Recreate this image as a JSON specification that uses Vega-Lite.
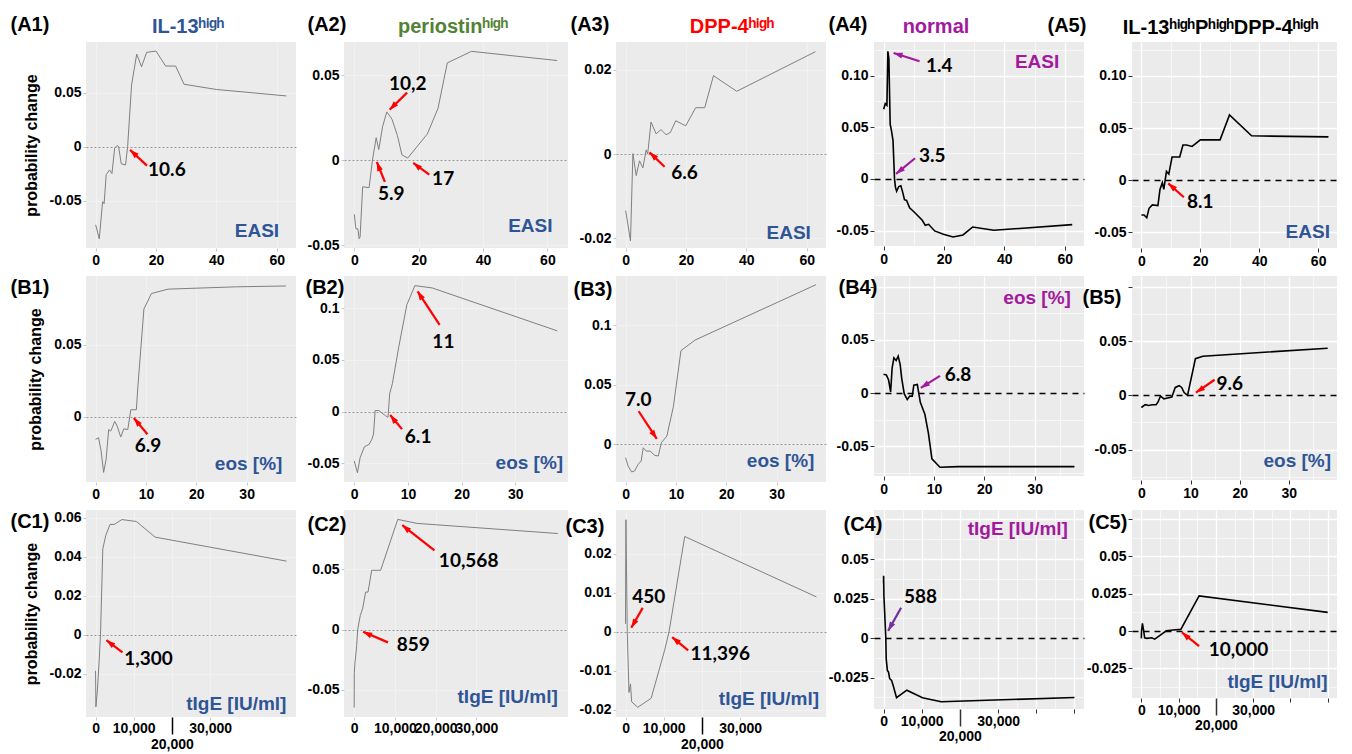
{
"$schema":"https://vega.github.io/schema/vega-lite/v6.json",
"background":"white",
"padding":{"left":10,"top":14,"right":4,"bottom":4},
"datasets":{
"crv":[
{"p":"A1","x":0,"y":-0.0725},{"p":"A1","x":1.2,"y":-0.0855},{"p":"A1","x":2.3,"y":-0.051},{"p":"A1","x":2.8,"y":-0.053},{"p":"A1","x":3.5,"y":-0.026},{"p":"A1","x":4.6,"y":-0.0216},{"p":"A1","x":5.4,"y":-0.025},{"p":"A1","x":6.3,"y":-0.0015},{"p":"A1","x":7.1,"y":0.001},{"p":"A1","x":7.6,"y":0},{"p":"A1","x":8.5,"y":-0.016},{"p":"A1","x":9.9,"y":-0.017},{"p":"A1","x":10.6,"y":0},{"p":"A1","x":11.9,"y":0.057},{"p":"A1","x":13.6,"y":0.0858},{"p":"A1","x":15.2,"y":0.074},{"p":"A1","x":16.9,"y":0.0874},{"p":"A1","x":20,"y":0.0886},{"p":"A1","x":23.2,"y":0.0747},{"p":"A1","x":26.5,"y":0.0747},{"p":"A1","x":29.3,"y":0.0578},{"p":"A1","x":40,"y":0.053},{"p":"A1","x":63.2,"y":0.047},
{"p":"A2","x":0,"y":-0.0317},{"p":"A2","x":0.5,"y":-0.0402},{"p":"A2","x":1.1,"y":-0.0402},{"p":"A2","x":1.5,"y":-0.046},{"p":"A2","x":1.8,"y":-0.045},{"p":"A2","x":2.6,"y":-0.0155},{"p":"A2","x":4.6,"y":-0.016},{"p":"A2","x":5.7,"y":0.001},{"p":"A2","x":6.8,"y":0.0134},{"p":"A2","x":7.6,"y":0.0064},{"p":"A2","x":8.8,"y":0.02},{"p":"A2","x":10.1,"y":0.0286},{"p":"A2","x":11.7,"y":0.0243},{"p":"A2","x":13.4,"y":0.0146},{"p":"A2","x":14.8,"y":0.0033},{"p":"A2","x":16.6,"y":0.0014},{"p":"A2","x":22.7,"y":0.0156},{"p":"A2","x":26,"y":0.0306},{"p":"A2","x":28.9,"y":0.0574},{"p":"A2","x":36.4,"y":0.0642},{"p":"A2","x":63,"y":0.0588},
{"p":"A3","x":0,"y":-0.0134},{"p":"A3","x":1.6,"y":-0.0206},{"p":"A3","x":2.4,"y":0.0001},{"p":"A3","x":3.5,"y":-0.0051},{"p":"A3","x":4.6,"y":-0.0016},{"p":"A3","x":5.7,"y":-0.0033},{"p":"A3","x":6.8,"y":0.001},{"p":"A3","x":7.3,"y":0},{"p":"A3","x":8.4,"y":0.0076},{"p":"A3","x":10.1,"y":0.0048},{"p":"A3","x":11.7,"y":0.0058},{"p":"A3","x":13.4,"y":0.0046},{"p":"A3","x":14.8,"y":0.0051},{"p":"A3","x":16.6,"y":0.0079},{"p":"A3","x":19.9,"y":0.0067},{"p":"A3","x":23.2,"y":0.011},{"p":"A3","x":26.2,"y":0.011},{"p":"A3","x":29.1,"y":0.0186},{"p":"A3","x":36.8,"y":0.0149},{"p":"A3","x":62.9,"y":0.0243},
{"p":"A4","x":0,"y":0.0674},{"p":"A4","x":0.54,"y":0.0729},{"p":"A4","x":1.08,"y":0.0713},{"p":"A4","x":1.4,"y":0.1236},{"p":"A4","x":1.73,"y":0.1166},{"p":"A4","x":2.16,"y":0.053},{"p":"A4","x":2.6,"y":0.0466},{"p":"A4","x":3.1,"y":0.037},{"p":"A4","x":3.6,"y":0},{"p":"A4","x":3.9,"y":-0.008},{"p":"A4","x":4.3,"y":-0.0119},{"p":"A4","x":5,"y":-0.0074},{"p":"A4","x":5.7,"y":-0.0067},{"p":"A4","x":6.3,"y":-0.0128},{"p":"A4","x":6.9,"y":-0.0202},{"p":"A4","x":7.6,"y":-0.0209},{"p":"A4","x":8.6,"y":-0.028},{"p":"A4","x":10.1,"y":-0.0321},{"p":"A4","x":12.8,"y":-0.0401},{"p":"A4","x":13.8,"y":-0.045},{"p":"A4","x":14.9,"y":-0.044},{"p":"A4","x":16.9,"y":-0.0504},{"p":"A4","x":19.8,"y":-0.0536},{"p":"A4","x":23,"y":-0.0562},{"p":"A4","x":26.3,"y":-0.0543},{"p":"A4","x":29.5,"y":-0.0466},{"p":"A4","x":36.5,"y":-0.0498},{"p":"A4","x":62.5,"y":-0.0443},
{"p":"A5","x":0,"y":-0.0334},{"p":"A5","x":0.9,"y":-0.0334},{"p":"A5","x":1.8,"y":-0.036},{"p":"A5","x":2.6,"y":-0.0269},{"p":"A5","x":3.7,"y":-0.0236},{"p":"A5","x":5.6,"y":-0.0243},{"p":"A5","x":6.3,"y":-0.0088},{"p":"A5","x":7.1,"y":-0.0023},{"p":"A5","x":7.6,"y":-0.0088},{"p":"A5","x":8.5,"y":0.0085},{"p":"A5","x":9.3,"y":0.0059},{"p":"A5","x":10.4,"y":0.0223},{"p":"A5","x":13,"y":0.0223},{"p":"A5","x":14.1,"y":0.0338},{"p":"A5","x":15.3,"y":0.0338},{"p":"A5","x":17.2,"y":0.0324},{"p":"A5","x":20,"y":0.0387},{"p":"A5","x":26.7,"y":0.0387},{"p":"A5","x":29.9,"y":0.0626},{"p":"A5","x":37.4,"y":0.0426},{"p":"A5","x":63.5,"y":0.0416},
{"p":"B1","x":0,"y":-0.0155},{"p":"B1","x":0.6,"y":-0.0144},{"p":"B1","x":1.1,"y":-0.0235},{"p":"B1","x":1.6,"y":-0.0384},{"p":"B1","x":2.1,"y":-0.0292},{"p":"B1","x":2.6,"y":-0.0087},{"p":"B1","x":3,"y":-0.0098},{"p":"B1","x":3.3,"y":-0.0075},{"p":"B1","x":3.8,"y":-0.003},{"p":"B1","x":4.3,"y":-0.0064},{"p":"B1","x":5,"y":-0.0139},{"p":"B1","x":5.6,"y":-0.0082},{"p":"B1","x":6.4,"y":-0.0087},{"p":"B1","x":7,"y":0.005},{"p":"B1","x":8.1,"y":0.005},{"p":"B1","x":8.4,"y":0.021},{"p":"B1","x":9.6,"y":0.0747},{"p":"B1","x":11.1,"y":0.0854},{"p":"B1","x":14.4,"y":0.0884},{"p":"B1","x":27.8,"y":0.09},{"p":"B1","x":37.8,"y":0.0906},
{"p":"B2","x":0,"y":-0.0477},{"p":"B2","x":0.6,"y":-0.059},{"p":"B2","x":1.1,"y":-0.0445},{"p":"B2","x":1.9,"y":-0.034},{"p":"B2","x":2.8,"y":-0.0315},{"p":"B2","x":3.3,"y":-0.0266},{"p":"B2","x":3.6,"y":-0.0217},{"p":"B2","x":3.9,"y":0.001},{"p":"B2","x":4.6,"y":0.001},{"p":"B2","x":5.8,"y":-0.0039},{"p":"B2","x":6.3,"y":-0.0055},{"p":"B2","x":6.6,"y":0.0172},{"p":"B2","x":7.1,"y":0.0269},{"p":"B2","x":8.3,"y":0.0626},{"p":"B2","x":9.8,"y":0.1032},{"p":"B2","x":11.3,"y":0.1217},{"p":"B2","x":14.5,"y":0.1195},{"p":"B2","x":37.8,"y":0.078},
{"p":"B3","x":0,"y":-0.0111},{"p":"B3","x":0.5,"y":-0.0181},{"p":"B3","x":1.2,"y":-0.0231},{"p":"B3","x":1.8,"y":-0.0222},{"p":"B3","x":2.5,"y":-0.0167},{"p":"B3","x":3.1,"y":-0.0139},{"p":"B3","x":3.5,"y":-0.0028},{"p":"B3","x":4.1,"y":-0.0056},{"p":"B3","x":4.9,"y":-0.0056},{"p":"B3","x":5.8,"y":-0.0092},{"p":"B3","x":6.5,"y":-0.0097},{"p":"B3","x":7.1,"y":0.0014},{"p":"B3","x":8.2,"y":0.007},{"p":"B3","x":9.5,"y":0.0319},{"p":"B3","x":11,"y":0.0786},{"p":"B3","x":13.8,"y":0.0875},{"p":"B3","x":37.8,"y":0.1339},
{"p":"B4","x":0,"y":0.0177},{"p":"B4","x":0.55,"y":0.017},{"p":"B4","x":1,"y":0.0122},{"p":"B4","x":1.4,"y":0.001},{"p":"B4","x":1.7,"y":0.0235},{"p":"B4","x":2.05,"y":0.0331},{"p":"B4","x":2.5,"y":0.0306},{"p":"B4","x":2.9,"y":0.0347},{"p":"B4","x":3.3,"y":0.0267},{"p":"B4","x":3.6,"y":0.0138},{"p":"B4","x":4.1,"y":-0.0006},{"p":"B4","x":4.7,"y":-0.0061},{"p":"B4","x":5.2,"y":-0.0029},{"p":"B4","x":5.7,"y":-0.0029},{"p":"B4","x":6,"y":0.0074},{"p":"B4","x":6.7,"y":0.008},{"p":"B4","x":7.3,"y":-0.0087},{"p":"B4","x":8.2,"y":-0.02},{"p":"B4","x":8.9,"y":-0.0376},{"p":"B4","x":9.6,"y":-0.0618},{"p":"B4","x":11.2,"y":-0.0698},{"p":"B4","x":14.9,"y":-0.0692},{"p":"B4","x":37.9,"y":-0.0692},
{"p":"B5","x":0,"y":-0.0112},{"p":"B5","x":0.8,"y":-0.0086},{"p":"B5","x":1.5,"y":-0.0093},{"p":"B5","x":2.2,"y":-0.0086},{"p":"B5","x":3,"y":-0.0086},{"p":"B5","x":3.4,"y":-0.0061},{"p":"B5","x":3.9,"y":-0.0006},{"p":"B5","x":4.6,"y":-0.0032},{"p":"B5","x":5.6,"y":-0.0022},{"p":"B5","x":6.2,"y":-0.0016},{"p":"B5","x":6.9,"y":0.0073},{"p":"B5","x":7.7,"y":0.0089},{"p":"B5","x":8.2,"y":0.0073},{"p":"B5","x":8.7,"y":0.0026},{"p":"B5","x":9.4,"y":0},{"p":"B5","x":11,"y":0.0338},{"p":"B5","x":12.5,"y":0.0361},{"p":"B5","x":37.9,"y":0.0434},
{"p":"C1","x":0,"y":-0.0185},{"p":"C1","x":100,"y":-0.037},{"p":"C1","x":500,"y":-0.028},{"p":"C1","x":900,"y":-0.015},{"p":"C1","x":1300,"y":0},{"p":"C1","x":1900,"y":0.044},{"p":"C1","x":2700,"y":0.051},{"p":"C1","x":3800,"y":0.0565},{"p":"C1","x":4900,"y":0.0565},{"p":"C1","x":6900,"y":0.059},{"p":"C1","x":10700,"y":0.058},{"p":"C1","x":15600,"y":0.05},{"p":"C1","x":50000,"y":0.0377},
{"p":"C2","x":0,"y":-0.0647},{"p":"C2","x":30,"y":-0.0356},{"p":"C2","x":200,"y":-0.027},{"p":"C2","x":300,"y":-0.0244},{"p":"C2","x":600,"y":-0.0133},{"p":"C2","x":860,"y":0},{"p":"C2","x":1500,"y":0.0117},{"p":"C2","x":2100,"y":0.0178},{"p":"C2","x":2800,"y":0.0311},{"p":"C2","x":3400,"y":0.0311},{"p":"C2","x":4300,"y":0.0492},{"p":"C2","x":6500,"y":0.0492},{"p":"C2","x":10700,"y":0.0914},{"p":"C2","x":15400,"y":0.0881},{"p":"C2","x":50000,"y":0.0797},
{"p":"C3","x":0,"y":0.002},{"p":"C3","x":50,"y":0.0195},{"p":"C3","x":100,"y":0.0287},{"p":"C3","x":250,"y":0.016},{"p":"C3","x":450,"y":0},{"p":"C3","x":900,"y":-0.0156},{"p":"C3","x":1300,"y":-0.0134},{"p":"C3","x":1600,"y":-0.018},{"p":"C3","x":3200,"y":-0.0194},{"p":"C3","x":4600,"y":-0.0185},{"p":"C3","x":6700,"y":-0.0171},{"p":"C3","x":10200,"y":-0.0049},{"p":"C3","x":11400,"y":0},{"p":"C3","x":15500,"y":0.0244},{"p":"C3","x":50000,"y":0.0089},
{"p":"C4","x":0,"y":0.0348},{"p":"C4","x":20,"y":0.0394},{"p":"C4","x":100,"y":0.0265},{"p":"C4","x":300,"y":0.016},{"p":"C4","x":588,"y":0},{"p":"C4","x":700,"y":-0.0131},{"p":"C4","x":1000,"y":-0.0204},{"p":"C4","x":1300,"y":-0.0215},{"p":"C4","x":1600,"y":-0.0256},{"p":"C4","x":2100,"y":-0.0267},{"p":"C4","x":2500,"y":-0.0298},{"p":"C4","x":3400,"y":-0.0377},{"p":"C4","x":6100,"y":-0.0329},{"p":"C4","x":10200,"y":-0.0377},{"p":"C4","x":15100,"y":-0.0402},{"p":"C4","x":50000,"y":-0.0375},
{"p":"C5","x":0,"y":-0.0049},{"p":"C5","x":50,"y":-0.0004},{"p":"C5","x":300,"y":0.0051},{"p":"C5","x":600,"y":0.0007},{"p":"C5","x":900,"y":-0.0045},{"p":"C5","x":1500,"y":-0.0049},{"p":"C5","x":2800,"y":-0.0045},{"p":"C5","x":3600,"y":-0.0054},{"p":"C5","x":5100,"y":-0.0027},{"p":"C5","x":6700,"y":0.0002},{"p":"C5","x":8500,"y":0.0007},{"p":"C5","x":10600,"y":0.0011},{"p":"C5","x":15500,"y":0.0235},{"p":"C5","x":50000,"y":0.0125}
],
"arr":[
{"p":"A1","x":17,"y":-0.0176,"hx":11.4,"hy":-0.003,"a":313},
{"p":"A2","x":16.4,"y":0.0399,"hx":10.99,"hy":0.0298,"a":224},
{"p":"A2","x":9.5,"y":-0.0126,"hx":7.0,"hy":-0.0009,"a":339},
{"p":"A2","x":23.3,"y":-0.0083,"hx":18.3,"hy":-0.0014,"a":309},
{"p":"A3","x":12.9,"y":-0.003,"hx":7.9,"hy":0.0004,"a":313},
{"p":"A4","x":11.9,"y":0.114,"hx":3.3,"hy":0.122,"a":287},
{"p":"A4","x":10.4,"y":0.02,"hx":4.1,"hy":0.0048,"a":231},
{"p":"A5","x":14.4,"y":-0.0163,"hx":9.1,"hy":-0.003,"a":311},
{"p":"B1","x":10.3,"y":-0.012,"hx":7.6,"hy":-0.0007,"a":321},
{"p":"B2","x":15.9,"y":0.0837,"hx":11.8,"hy":0.1162,"a":328},
{"p":"B2","x":8.9,"y":-0.0169,"hx":6.7,"hy":-0.0033,"a":322},
{"p":"B3","x":2.6,"y":0.0278,"hx":6.2,"hy":0.0047,"a":146},
{"p":"B4","x":11.2,"y":0.0161,"hx":7.4,"hy":0.0048,"a":237},
{"p":"B5","x":14.9,"y":0.0144,"hx":11.1,"hy":0.0025,"a":236},
{"p":"C1","x":7050,"y":-0.0091,"hx":2840,"hy":-0.0028,"a":308},
{"p":"C2","x":19700,"y":0.0658,"hx":11800,"hy":0.0867,"a":310},
{"p":"C2","x":8300,"y":-0.0106,"hx":2200,"hy":-0.0017,"a":295},
{"p":"C3","x":4500,"y":0.0061,"hx":1500,"hy":0.001,"a":210},
{"p":"C3","x":16400,"y":-0.0048,"hx":12200,"hy":-0.0014,"a":310},
{"p":"C4","x":4600,"y":0.0192,"hx":1200,"hy":0.0046,"a":209},
{"p":"C5","x":15500,"y":-0.0101,"hx":10900,"hy":-0.0009,"a":311}
],
"num":[
{"p":"A1","x":23.6,"y":-0.0215,"t":"10.6"},
{"p":"A2","x":16.6,"y":0.045,"t":"10,2"},{"p":"A2","x":11.5,"y":-0.02,"t":"5.9"},{"p":"A2","x":27.6,"y":-0.0107,"t":"17"},
{"p":"A3","x":19.5,"y":-0.0044,"t":"6.6"},
{"p":"A4","x":18.4,"y":0.1092,"t":"1.4"},{"p":"A4","x":16.1,"y":0.0225,"t":"3.5"},
{"p":"A5","x":20,"y":-0.0209,"t":"8.1"},
{"p":"B1","x":10.4,"y":-0.0202,"t":"6.9"},
{"p":"B2","x":16.6,"y":0.0675,"t":"11"},{"p":"B2","x":11.9,"y":-0.025,"t":"6.1"},
{"p":"B3","x":2.5,"y":0.0375,"t":"7.0"},
{"p":"B4","x":14.8,"y":0.0171,"t":"6.8"},
{"p":"B5","x":18,"y":0.0105,"t":"9.6"},
{"p":"C1","x":13900,"y":-0.0125,"t":"1,300"},
{"p":"C2","x":28100,"y":0.0567,"t":"10,568"},{"p":"C2","x":14500,"y":-0.0125,"t":"859"},
{"p":"C3","x":6100,"y":0.0088,"t":"450"},{"p":"C3","x":24800,"y":-0.0058,"t":"11,396"},
{"p":"C4","x":9700,"y":0.0261,"t":"588"},
{"p":"C5","x":26100,"y":-0.0128,"t":"10,000"}
],
"axn":[
{"p":"A1","x":60.8,"y":-0.0787,"t":"EASI"},{"p":"A2","x":61.6,"y":-0.0387,"t":"EASI"},{"p":"A3","x":61.4,"y":-0.0187,"t":"EASI"},{"p":"A4","x":58.2,"y":0.113,"t":"EASI"},{"p":"A5","x":64,"y":-0.0498,"t":"EASI"},
{"p":"B1","x":37.1,"y":-0.0326,"t":"eos [%]"},{"p":"B2","x":38.9,"y":-0.0494,"t":"eos [%]"},{"p":"B3","x":37.5,"y":-0.0139,"t":"eos [%]"},{"p":"B4","x":37.2,"y":0.0895,"t":"eos [%]"},{"p":"B5","x":38.6,"y":-0.0604,"t":"eos [%]"},
{"p":"C1","x":50000,"y":-0.0353,"t":"tIgE [IU/ml]"},{"p":"C2","x":50000,"y":-0.0556,"t":"tIgE [IU/ml]"},{"p":"C3","x":50700,"y":-0.0173,"t":"tIgE [IU/ml]"},{"p":"C4","x":48300,"y":0.0692,"t":"tIgE [IU/ml]"},{"p":"C5","x":50000,"y":-0.034,"t":"tIgE [IU/ml]"}
]
},
"columns":5,
"bounds":"flush",
"spacing":{"row":28,"column":48},
"concat":[
{"width":210,"height":206,
"title":{"text":"IL-13ʰⁱᵍʰ","color":"#2f5597","frame":"group","anchor":"middle","offset":-39,"baseline":"alphabetic","dx":-3},
"encoding":{
"x":{"field":"x","type":"quantitative","scale":{"domain":[-3.2,66.4],"nice":false,"zero":false},"axis":{"values":[0,20,40,60],"title":"(A1)","titleX":-76,"titleY":-218}},
"y":{"field":"y","type":"quantitative","scale":{"domain":[-0.094,0.097],"nice":false,"zero":false},"axis":{"values":[-0.05,0,0.05],"labelExpr":"datum.value===0?'0':replace(format(datum.value,''),'−','-')","title":"probability change","gridColor":{"condition":{"test":"datum.value===0","value":"#9a9a9a"},"value":"#f4f4f4"},"gridDash":{"condition":{"test":"datum.value===0","value":[2,2]},"value":[]},"gridWidth":{"condition":{"test":"datum.value===0","value":1},"value":0.8}}}},
"layer":[
{"data":{"name":"crv"},"transform":[{"filter":"datum.p==='A1'"}],"mark":{"type":"line","color":"#7f7f7f","strokeWidth":1}},
{"data":{"name":"arr"},"transform":[{"filter":"datum.p==='A1'"}],"mark":{"type":"rule","strokeWidth":2.2,"color":"#ff0000"},"encoding":{"x2":{"field":"hx"},"y2":{"field":"hy"}}},
{"data":{"name":"arr"},"transform":[{"filter":"datum.p==='A1'"}],"mark":{"type":"point","shape":"M0,0L-0.8,2.4L0.8,2.4Z","filled":true,"size":56,"opacity":1,"color":"#ff0000"},"encoding":{"x":{"field":"hx","type":"quantitative"},"y":{"field":"hy","type":"quantitative"},"angle":{"field":"a","type":"quantitative","scale":null}}},
{"data":{"name":"num"},"transform":[{"filter":"datum.p==='A1'"}],"mark":{"type":"text","font":"Lato","fontWeight":"bold","fontSize":19,"color":"#000000"},"encoding":{"text":{"field":"t"}}},
{"data":{"name":"axn"},"transform":[{"filter":"datum.p==='A1'"}],"mark":{"type":"text","font":"Liberation Sans","fontWeight":"bold","fontSize":19,"align":"right","color":"#2f5597"},"encoding":{"text":{"field":"t"}}}
]},
{"width":224,"height":206,
"title":{"text":"periostinʰⁱᵍʰ","color":"#548235","frame":"group","anchor":"middle","offset":-39,"baseline":"alphabetic","dx":-3},
"encoding":{
"x":{"field":"x","type":"quantitative","scale":{"domain":[-3.2,66.4],"nice":false,"zero":false},"axis":{"values":[0,20,40,60],"title":"(A2)","titleX":-37,"titleY":-218}},
"y":{"field":"y","type":"quantitative","scale":{"domain":[-0.0515,0.0697],"nice":false,"zero":false},"axis":{"values":[-0.05,0,0.05],"labelExpr":"datum.value===0?'0':replace(format(datum.value,''),'−','-')","title":null,"gridColor":{"condition":{"test":"datum.value===0","value":"#9a9a9a"},"value":"#f4f4f4"},"gridDash":{"condition":{"test":"datum.value===0","value":[2,2]},"value":[]},"gridWidth":{"condition":{"test":"datum.value===0","value":1},"value":0.8}}}},
"layer":[
{"data":{"name":"crv"},"transform":[{"filter":"datum.p==='A2'"}],"mark":{"type":"line","color":"#7f7f7f","strokeWidth":1}},
{"data":{"name":"arr"},"transform":[{"filter":"datum.p==='A2'"}],"mark":{"type":"rule","strokeWidth":2.2,"color":"#ff0000"},"encoding":{"x2":{"field":"hx"},"y2":{"field":"hy"}}},
{"data":{"name":"arr"},"transform":[{"filter":"datum.p==='A2'"}],"mark":{"type":"point","shape":"M0,0L-0.8,2.4L0.8,2.4Z","filled":true,"size":56,"opacity":1,"color":"#ff0000"},"encoding":{"x":{"field":"hx","type":"quantitative"},"y":{"field":"hy","type":"quantitative"},"angle":{"field":"a","type":"quantitative","scale":null}}},
{"data":{"name":"num"},"transform":[{"filter":"datum.p==='A2'"}],"mark":{"type":"text","font":"Lato","fontWeight":"bold","fontSize":19,"color":"#000000"},"encoding":{"text":{"field":"t"}}},
{"data":{"name":"axn"},"transform":[{"filter":"datum.p==='A2'"}],"mark":{"type":"text","font":"Liberation Sans","fontWeight":"bold","fontSize":19,"align":"right","color":"#2f5597"},"encoding":{"text":{"field":"t"}}}
]},
{"width":210,"height":206,
"title":{"text":"DPP-4ʰⁱᵍʰ","color":"#ff0000","frame":"group","anchor":"middle","offset":-39,"baseline":"alphabetic","dx":11},
"encoding":{
"x":{"field":"x","type":"quantitative","scale":{"domain":[-3.2,66.4],"nice":false,"zero":false},"axis":{"values":[0,20,40,60],"title":"(A3)","titleX":-46,"titleY":-218}},
"y":{"field":"y","type":"quantitative","scale":{"domain":[-0.0223,0.0266],"nice":false,"zero":false},"axis":{"values":[-0.02,0,0.02],"labelExpr":"datum.value===0?'0':replace(format(datum.value,''),'−','-')","title":null,"gridColor":{"condition":{"test":"datum.value===0","value":"#9a9a9a"},"value":"#f4f4f4"},"gridDash":{"condition":{"test":"datum.value===0","value":[2,2]},"value":[]},"gridWidth":{"condition":{"test":"datum.value===0","value":1},"value":0.8}}}},
"layer":[
{"data":{"name":"crv"},"transform":[{"filter":"datum.p==='A3'"}],"mark":{"type":"line","color":"#7f7f7f","strokeWidth":1}},
{"data":{"name":"arr"},"transform":[{"filter":"datum.p==='A3'"}],"mark":{"type":"rule","strokeWidth":2.2,"color":"#ff0000"},"encoding":{"x2":{"field":"hx"},"y2":{"field":"hy"}}},
{"data":{"name":"arr"},"transform":[{"filter":"datum.p==='A3'"}],"mark":{"type":"point","shape":"M0,0L-0.8,2.4L0.8,2.4Z","filled":true,"size":56,"opacity":1,"color":"#ff0000"},"encoding":{"x":{"field":"hx","type":"quantitative"},"y":{"field":"hy","type":"quantitative"},"angle":{"field":"a","type":"quantitative","scale":null}}},
{"data":{"name":"num"},"transform":[{"filter":"datum.p==='A3'"}],"mark":{"type":"text","font":"Lato","fontWeight":"bold","fontSize":19,"color":"#000000"},"encoding":{"text":{"field":"t"}}},
{"data":{"name":"axn"},"transform":[{"filter":"datum.p==='A3'"}],"mark":{"type":"text","font":"Liberation Sans","fontWeight":"bold","fontSize":19,"align":"right","color":"#2f5597"},"encoding":{"text":{"field":"t"}}}
]},
{"width":210,"height":204,
"title":{"text":"normal","color":"#a3199d","frame":"group","anchor":"middle","offset":-39,"baseline":"alphabetic","dx":-43},
"encoding":{
"x":{"field":"x","type":"quantitative","scale":{"domain":[-3.2,66.4],"nice":false,"zero":false},"axis":{"values":[0,10,20,30,40,50,60],"labelExpr":"indexof([0,20,40,60],datum.value)<0?'':datum.label","tickSize":4,"tickColor":{"condition":{"test":"indexof([0,20,40,60],datum.value)>=0","value":"#333333"},"value":"transparent"},"gridColor":"#ffffff","gridWidth":{"condition":{"test":"indexof([0,20,40,60],datum.value)>=0","value":1.3},"value":0.6},"title":"(A4)","titleX":-46,"titleY":-216}},
"y":{"field":"y","type":"quantitative","scale":{"domain":[-0.065,0.1326],"nice":false,"zero":false},"axis":{"values":[-0.05,-0.025,0,0.025,0.05,0.075,0.1,0.125],"labelExpr":"indexof([-0.05,0,0.05,0.1],datum.value)<0?'':datum.value===0?'0':replace(format(datum.value,'.2f'),'−','-')","title":null,"tickSize":4,"tickColor":{"condition":{"test":"indexof([-0.05,0,0.05,0.1],datum.value)>=0","value":"#333333"},"value":"transparent"},"gridColor":{"condition":{"test":"datum.value===0","value":"#000000"},"value":"#ffffff"},"gridDash":{"condition":{"test":"datum.value===0","value":[6,5]},"value":[]},"gridWidth":{"condition":{"test":"indexof([-0.05,0,0.05,0.1],datum.value)>=0","value":1.3},"value":0.6}}}},
"layer":[
{"data":{"name":"crv"},"transform":[{"filter":"datum.p==='A4'"}],"mark":{"type":"line","color":"#000000","strokeWidth":1.6}},
{"data":{"name":"arr"},"transform":[{"filter":"datum.p==='A4'"}],"mark":{"type":"rule","strokeWidth":2.2,"color":"#a3199d"},"encoding":{"x2":{"field":"hx"},"y2":{"field":"hy"}}},
{"data":{"name":"arr"},"transform":[{"filter":"datum.p==='A4'"}],"mark":{"type":"point","shape":"M0,0L-0.8,2.4L0.8,2.4Z","filled":true,"size":56,"opacity":1,"color":"#a3199d"},"encoding":{"x":{"field":"hx","type":"quantitative"},"y":{"field":"hy","type":"quantitative"},"angle":{"field":"a","type":"quantitative","scale":null}}},
{"data":{"name":"num"},"transform":[{"filter":"datum.p==='A4'"}],"mark":{"type":"text","font":"Lato","fontWeight":"bold","fontSize":19,"color":"#000000"},"encoding":{"text":{"field":"t"}}},
{"data":{"name":"axn"},"transform":[{"filter":"datum.p==='A4'"}],"mark":{"type":"text","font":"Liberation Sans","fontWeight":"bold","fontSize":19,"align":"right","color":"#a3199d"},"encoding":{"text":{"field":"t"}}}
]},
{"width":205,"height":206,
"title":{"text":"IL-13ʰⁱᵍʰPʰⁱᵍʰDPP-4ʰⁱᵍʰ","color":"#000000","frame":"group","anchor":"middle","offset":-39,"baseline":"alphabetic","dx":-14},
"encoding":{
"x":{"field":"x","type":"quantitative","scale":{"domain":[-3.2,66.4],"nice":false,"zero":false},"axis":{"values":[0,10,20,30,40,50,60],"labelExpr":"indexof([0,20,40,60],datum.value)<0?'':datum.label","tickSize":4,"tickColor":{"condition":{"test":"indexof([0,20,40,60],datum.value)>=0","value":"#333333"},"value":"transparent"},"gridColor":"#ffffff","gridWidth":{"condition":{"test":"indexof([0,20,40,60],datum.value)>=0","value":1.3},"value":0.6},"title":"(A5)","titleX":-85,"titleY":-217}},
"y":{"field":"y","type":"quantitative","scale":{"domain":[-0.065,0.1326],"nice":false,"zero":false},"axis":{"values":[-0.05,-0.025,0,0.025,0.05,0.075,0.1,0.125],"labelExpr":"indexof([-0.05,0,0.05,0.1],datum.value)<0?'':datum.value===0?'0':replace(format(datum.value,'.2f'),'−','-')","title":null,"tickSize":4,"tickColor":{"condition":{"test":"indexof([-0.05,0,0.05,0.1],datum.value)>=0","value":"#333333"},"value":"transparent"},"gridColor":{"condition":{"test":"datum.value===0","value":"#000000"},"value":"#ffffff"},"gridDash":{"condition":{"test":"datum.value===0","value":[6,5]},"value":[]},"gridWidth":{"condition":{"test":"indexof([-0.05,0,0.05,0.1],datum.value)>=0","value":1.3},"value":0.6}}}},
"layer":[
{"data":{"name":"crv"},"transform":[{"filter":"datum.p==='A5'"}],"mark":{"type":"line","color":"#000000","strokeWidth":1.6}},
{"data":{"name":"arr"},"transform":[{"filter":"datum.p==='A5'"}],"mark":{"type":"rule","strokeWidth":2.2,"color":"#ff0000"},"encoding":{"x2":{"field":"hx"},"y2":{"field":"hy"}}},
{"data":{"name":"arr"},"transform":[{"filter":"datum.p==='A5'"}],"mark":{"type":"point","shape":"M0,0L-0.8,2.4L0.8,2.4Z","filled":true,"size":56,"opacity":1,"color":"#ff0000"},"encoding":{"x":{"field":"hx","type":"quantitative"},"y":{"field":"hy","type":"quantitative"},"angle":{"field":"a","type":"quantitative","scale":null}}},
{"data":{"name":"num"},"transform":[{"filter":"datum.p==='A5'"}],"mark":{"type":"text","font":"Lato","fontWeight":"bold","fontSize":19,"color":"#000000"},"encoding":{"text":{"field":"t"}}},
{"data":{"name":"axn"},"transform":[{"filter":"datum.p==='A5'"}],"mark":{"type":"text","font":"Liberation Sans","fontWeight":"bold","fontSize":19,"align":"right","color":"#2f5597"},"encoding":{"text":{"field":"t"}}}
]},
{"width":210,"height":206,
"encoding":{
"x":{"field":"x","type":"quantitative","scale":{"domain":[-1.9,39.8],"nice":false,"zero":false},"axis":{"values":[0,10,20,30],"title":"(B1)","titleX":-76,"titleY":-189}},
"y":{"field":"y","type":"quantitative","scale":{"domain":[-0.045,0.0975],"nice":false,"zero":false},"axis":{"values":[0,0.05],"labelExpr":"datum.value===0?'0':replace(format(datum.value,''),'−','-')","title":"probability change","gridColor":{"condition":{"test":"datum.value===0","value":"#9a9a9a"},"value":"#f4f4f4"},"gridDash":{"condition":{"test":"datum.value===0","value":[2,2]},"value":[]},"gridWidth":{"condition":{"test":"datum.value===0","value":1},"value":0.8}}}},
"layer":[
{"data":{"name":"crv"},"transform":[{"filter":"datum.p==='B1'"}],"mark":{"type":"line","color":"#7f7f7f","strokeWidth":1}},
{"data":{"name":"arr"},"transform":[{"filter":"datum.p==='B1'"}],"mark":{"type":"rule","strokeWidth":2.2,"color":"#ff0000"},"encoding":{"x2":{"field":"hx"},"y2":{"field":"hy"}}},
{"data":{"name":"arr"},"transform":[{"filter":"datum.p==='B1'"}],"mark":{"type":"point","shape":"M0,0L-0.8,2.4L0.8,2.4Z","filled":true,"size":56,"opacity":1,"color":"#ff0000"},"encoding":{"x":{"field":"hx","type":"quantitative"},"y":{"field":"hy","type":"quantitative"},"angle":{"field":"a","type":"quantitative","scale":null}}},
{"data":{"name":"num"},"transform":[{"filter":"datum.p==='B1'"}],"mark":{"type":"text","font":"Lato","fontWeight":"bold","fontSize":19,"color":"#000000"},"encoding":{"text":{"field":"t"}}},
{"data":{"name":"axn"},"transform":[{"filter":"datum.p==='B1'"}],"mark":{"type":"text","font":"Liberation Sans","fontWeight":"bold","fontSize":19,"align":"right","color":"#2f5597"},"encoding":{"text":{"field":"t"}}}
]},
{"width":224,"height":206,
"encoding":{
"x":{"field":"x","type":"quantitative","scale":{"domain":[-1.9,39.8],"nice":false,"zero":false},"axis":{"values":[0,10,20,30],"title":"(B2)","titleX":-39,"titleY":-189}},
"y":{"field":"y","type":"quantitative","scale":{"domain":[-0.068,0.131],"nice":false,"zero":false},"axis":{"values":[-0.05,0,0.05,0.1],"labelExpr":"datum.value===0?'0':replace(format(datum.value,''),'−','-')","title":null,"gridColor":{"condition":{"test":"datum.value===0","value":"#9a9a9a"},"value":"#f4f4f4"},"gridDash":{"condition":{"test":"datum.value===0","value":[2,2]},"value":[]},"gridWidth":{"condition":{"test":"datum.value===0","value":1},"value":0.8}}}},
"layer":[
{"data":{"name":"crv"},"transform":[{"filter":"datum.p==='B2'"}],"mark":{"type":"line","color":"#7f7f7f","strokeWidth":1}},
{"data":{"name":"arr"},"transform":[{"filter":"datum.p==='B2'"}],"mark":{"type":"rule","strokeWidth":2.2,"color":"#ff0000"},"encoding":{"x2":{"field":"hx"},"y2":{"field":"hy"}}},
{"data":{"name":"arr"},"transform":[{"filter":"datum.p==='B2'"}],"mark":{"type":"point","shape":"M0,0L-0.8,2.4L0.8,2.4Z","filled":true,"size":56,"opacity":1,"color":"#ff0000"},"encoding":{"x":{"field":"hx","type":"quantitative"},"y":{"field":"hy","type":"quantitative"},"angle":{"field":"a","type":"quantitative","scale":null}}},
{"data":{"name":"num"},"transform":[{"filter":"datum.p==='B2'"}],"mark":{"type":"text","font":"Lato","fontWeight":"bold","fontSize":19,"color":"#000000"},"encoding":{"text":{"field":"t"}}},
{"data":{"name":"axn"},"transform":[{"filter":"datum.p==='B2'"}],"mark":{"type":"text","font":"Liberation Sans","fontWeight":"bold","fontSize":19,"align":"right","color":"#2f5597"},"encoding":{"text":{"field":"t"}}}
]},
{"width":210,"height":206,
"encoding":{
"x":{"field":"x","type":"quantitative","scale":{"domain":[-1.9,39.8],"nice":false,"zero":false},"axis":{"values":[0,10,20,30],"title":"(B3)","titleX":-43,"titleY":-187}},
"y":{"field":"y","type":"quantitative","scale":{"domain":[-0.0315,0.1412],"nice":false,"zero":false},"axis":{"values":[0,0.05,0.1],"labelExpr":"datum.value===0?'0':replace(format(datum.value,''),'−','-')","title":null,"gridColor":{"condition":{"test":"datum.value===0","value":"#9a9a9a"},"value":"#f4f4f4"},"gridDash":{"condition":{"test":"datum.value===0","value":[2,2]},"value":[]},"gridWidth":{"condition":{"test":"datum.value===0","value":1},"value":0.8}}}},
"layer":[
{"data":{"name":"crv"},"transform":[{"filter":"datum.p==='B3'"}],"mark":{"type":"line","color":"#7f7f7f","strokeWidth":1}},
{"data":{"name":"arr"},"transform":[{"filter":"datum.p==='B3'"}],"mark":{"type":"rule","strokeWidth":2.2,"color":"#ff0000"},"encoding":{"x2":{"field":"hx"},"y2":{"field":"hy"}}},
{"data":{"name":"arr"},"transform":[{"filter":"datum.p==='B3'"}],"mark":{"type":"point","shape":"M0,0L-0.8,2.4L0.8,2.4Z","filled":true,"size":56,"opacity":1,"color":"#ff0000"},"encoding":{"x":{"field":"hx","type":"quantitative"},"y":{"field":"hy","type":"quantitative"},"angle":{"field":"a","type":"quantitative","scale":null}}},
{"data":{"name":"num"},"transform":[{"filter":"datum.p==='B3'"}],"mark":{"type":"text","font":"Lato","fontWeight":"bold","fontSize":19,"color":"#000000"},"encoding":{"text":{"field":"t"}}},
{"data":{"name":"axn"},"transform":[{"filter":"datum.p==='B3'"}],"mark":{"type":"text","font":"Liberation Sans","fontWeight":"bold","fontSize":19,"align":"right","color":"#2f5597"},"encoding":{"text":{"field":"t"}}}
]},
{"width":210,"height":200,
"encoding":{
"x":{"field":"x","type":"quantitative","scale":{"domain":[-1.9,39.8],"nice":false,"zero":false},"axis":{"values":[0,5,10,15,20,25,30,35],"labelExpr":"indexof([0,10,20,30],datum.value)<0?'':datum.label","tickSize":4,"tickColor":{"condition":{"test":"indexof([0,10,20,30],datum.value)>=0","value":"#333333"},"value":"transparent"},"gridColor":"#ffffff","gridWidth":{"condition":{"test":"indexof([0,10,20,30],datum.value)>=0","value":1.3},"value":0.6},"title":"(B4)","titleX":-36,"titleY":-183}},
"y":{"field":"y","type":"quantitative","scale":{"domain":[-0.078,0.11],"nice":false,"zero":false},"axis":{"values":[-0.075,-0.05,-0.025,0,0.025,0.05,0.075,0.1],"labelExpr":"indexof([-0.05,0,0.05],datum.value)<0?'':datum.value===0?'0':replace(format(datum.value,''),'−','-')","title":null,"tickSize":4,"tickColor":{"condition":{"test":"indexof([-0.05,0,0.05,0.1],datum.value)>=0","value":"#333333"},"value":"transparent"},"gridColor":{"condition":{"test":"datum.value===0","value":"#000000"},"value":"#ffffff"},"gridDash":{"condition":{"test":"datum.value===0","value":[6,5]},"value":[]},"gridWidth":{"condition":{"test":"indexof([-0.05,0,0.05,0.1],datum.value)>=0","value":1.3},"value":0.6}}}},
"layer":[
{"data":{"name":"crv"},"transform":[{"filter":"datum.p==='B4'"}],"mark":{"type":"line","color":"#000000","strokeWidth":1.6}},
{"data":{"name":"arr"},"transform":[{"filter":"datum.p==='B4'"}],"mark":{"type":"rule","strokeWidth":2.2,"color":"#a3199d"},"encoding":{"x2":{"field":"hx"},"y2":{"field":"hy"}}},
{"data":{"name":"arr"},"transform":[{"filter":"datum.p==='B4'"}],"mark":{"type":"point","shape":"M0,0L-0.8,2.4L0.8,2.4Z","filled":true,"size":56,"opacity":1,"color":"#a3199d"},"encoding":{"x":{"field":"hx","type":"quantitative"},"y":{"field":"hy","type":"quantitative"},"angle":{"field":"a","type":"quantitative","scale":null}}},
{"data":{"name":"num"},"transform":[{"filter":"datum.p==='B4'"}],"mark":{"type":"text","font":"Lato","fontWeight":"bold","fontSize":19,"color":"#000000"},"encoding":{"text":{"field":"t"}}},
{"data":{"name":"axn"},"transform":[{"filter":"datum.p==='B4'"}],"mark":{"type":"text","font":"Liberation Sans","fontWeight":"bold","fontSize":19,"align":"right","color":"#a3199d"},"encoding":{"text":{"field":"t"}}}
]},
{"width":205,"height":204,
"encoding":{
"x":{"field":"x","type":"quantitative","scale":{"domain":[-1.9,39.8],"nice":false,"zero":false},"axis":{"values":[0,5,10,15,20,25,30,35],"labelExpr":"indexof([0,10,20,30],datum.value)<0?'':datum.label","tickSize":4,"tickColor":{"condition":{"test":"indexof([0,10,20,30],datum.value)>=0","value":"#333333"},"value":"transparent"},"gridColor":"#ffffff","gridWidth":{"condition":{"test":"indexof([0,10,20,30],datum.value)>=0","value":1.3},"value":0.6},"title":"(B5)","titleX":-50,"titleY":-177}},
"y":{"field":"y","type":"quantitative","scale":{"domain":[-0.078,0.11],"nice":false,"zero":false},"axis":{"values":[-0.075,-0.05,-0.025,0,0.025,0.05,0.075,0.1],"labelExpr":"indexof([-0.05,0,0.05],datum.value)<0?'':datum.value===0?'0':replace(format(datum.value,''),'−','-')","title":null,"tickSize":4,"tickColor":{"condition":{"test":"indexof([-0.05,0,0.05,0.1],datum.value)>=0","value":"#333333"},"value":"transparent"},"gridColor":{"condition":{"test":"datum.value===0","value":"#000000"},"value":"#ffffff"},"gridDash":{"condition":{"test":"datum.value===0","value":[6,5]},"value":[]},"gridWidth":{"condition":{"test":"indexof([-0.05,0,0.05,0.1],datum.value)>=0","value":1.3},"value":0.6}}}},
"layer":[
{"data":{"name":"crv"},"transform":[{"filter":"datum.p==='B5'"}],"mark":{"type":"line","color":"#000000","strokeWidth":1.6}},
{"data":{"name":"arr"},"transform":[{"filter":"datum.p==='B5'"}],"mark":{"type":"rule","strokeWidth":2.2,"color":"#ff0000"},"encoding":{"x2":{"field":"hx"},"y2":{"field":"hy"}}},
{"data":{"name":"arr"},"transform":[{"filter":"datum.p==='B5'"}],"mark":{"type":"point","shape":"M0,0L-0.8,2.4L0.8,2.4Z","filled":true,"size":56,"opacity":1,"color":"#ff0000"},"encoding":{"x":{"field":"hx","type":"quantitative"},"y":{"field":"hy","type":"quantitative"},"angle":{"field":"a","type":"quantitative","scale":null}}},
{"data":{"name":"num"},"transform":[{"filter":"datum.p==='B5'"}],"mark":{"type":"text","font":"Lato","fontWeight":"bold","fontSize":19,"color":"#000000"},"encoding":{"text":{"field":"t"}}},
{"data":{"name":"axn"},"transform":[{"filter":"datum.p==='B5'"}],"mark":{"type":"text","font":"Liberation Sans","fontWeight":"bold","fontSize":19,"align":"right","color":"#2f5597"},"encoding":{"text":{"field":"t"}}}
]},
{"width":210,"height":207,
"encoding":{
"x":{"field":"x","type":"quantitative","scale":{"domain":[-2500,52500],"nice":false,"zero":false},"axis":{"values":[0,10000,20000,30000],"labelExpr":"format(datum.value,',')","tickSize":{"condition":{"test":"datum.value===20000","value":17},"value":3},"tickColor":{"condition":{"test":"datum.value===20000","value":"#000000"},"value":"#c8c8c8"},"tickWidth":{"condition":{"test":"datum.value===20000","value":1.5},"value":1},"labelPadding":{"condition":{"test":"datum.value===20000","value":3},"value":1},"title":"(C1)","titleX":-76,"titleY":-190}},
"y":{"field":"y","type":"quantitative","scale":{"domain":[-0.0422,0.0639],"nice":false,"zero":false},"axis":{"values":[-0.02,0,0.02,0.04,0.06],"labelExpr":"datum.value===0?'0':replace(format(datum.value,''),'−','-')","title":"probability change","gridColor":{"condition":{"test":"datum.value===0","value":"#9a9a9a"},"value":"#f4f4f4"},"gridDash":{"condition":{"test":"datum.value===0","value":[2,2]},"value":[]},"gridWidth":{"condition":{"test":"datum.value===0","value":1},"value":0.8}}}},
"layer":[
{"data":{"name":"crv"},"transform":[{"filter":"datum.p==='C1'"}],"mark":{"type":"line","color":"#7f7f7f","strokeWidth":1}},
{"data":{"name":"arr"},"transform":[{"filter":"datum.p==='C1'"}],"mark":{"type":"rule","strokeWidth":2.2,"color":"#ff0000"},"encoding":{"x2":{"field":"hx"},"y2":{"field":"hy"}}},
{"data":{"name":"arr"},"transform":[{"filter":"datum.p==='C1'"}],"mark":{"type":"point","shape":"M0,0L-0.8,2.4L0.8,2.4Z","filled":true,"size":56,"opacity":1,"color":"#ff0000"},"encoding":{"x":{"field":"hx","type":"quantitative"},"y":{"field":"hy","type":"quantitative"},"angle":{"field":"a","type":"quantitative","scale":null}}},
{"data":{"name":"num"},"transform":[{"filter":"datum.p==='C1'"}],"mark":{"type":"text","font":"Lato","fontWeight":"bold","fontSize":19,"color":"#000000"},"encoding":{"text":{"field":"t"}}},
{"data":{"name":"axn"},"transform":[{"filter":"datum.p==='C1'"}],"mark":{"type":"text","font":"Liberation Sans","fontWeight":"bold","fontSize":19,"align":"right","color":"#2f5597"},"encoding":{"text":{"field":"t"}}}
]},
{"width":224,"height":207,
"encoding":{
"x":{"field":"x","type":"quantitative","scale":{"domain":[-2500,52500],"nice":false,"zero":false},"axis":{"values":[0,10000,20000,30000],"labelExpr":"format(datum.value,',')","labelPadding":1,"title":"(C2)","titleX":-37,"titleY":-187}},
"y":{"field":"y","type":"quantitative","scale":{"domain":[-0.0725,0.0992],"nice":false,"zero":false},"axis":{"values":[-0.05,0,0.05],"labelExpr":"datum.value===0?'0':replace(format(datum.value,''),'−','-')","title":null,"gridColor":{"condition":{"test":"datum.value===0","value":"#9a9a9a"},"value":"#f4f4f4"},"gridDash":{"condition":{"test":"datum.value===0","value":[2,2]},"value":[]},"gridWidth":{"condition":{"test":"datum.value===0","value":1},"value":0.8}}}},
"layer":[
{"data":{"name":"crv"},"transform":[{"filter":"datum.p==='C2'"}],"mark":{"type":"line","color":"#7f7f7f","strokeWidth":1}},
{"data":{"name":"arr"},"transform":[{"filter":"datum.p==='C2'"}],"mark":{"type":"rule","strokeWidth":2.2,"color":"#ff0000"},"encoding":{"x2":{"field":"hx"},"y2":{"field":"hy"}}},
{"data":{"name":"arr"},"transform":[{"filter":"datum.p==='C2'"}],"mark":{"type":"point","shape":"M0,0L-0.8,2.4L0.8,2.4Z","filled":true,"size":56,"opacity":1,"color":"#ff0000"},"encoding":{"x":{"field":"hx","type":"quantitative"},"y":{"field":"hy","type":"quantitative"},"angle":{"field":"a","type":"quantitative","scale":null}}},
{"data":{"name":"num"},"transform":[{"filter":"datum.p==='C2'"}],"mark":{"type":"text","font":"Lato","fontWeight":"bold","fontSize":19,"color":"#000000"},"encoding":{"text":{"field":"t"}}},
{"data":{"name":"axn"},"transform":[{"filter":"datum.p==='C2'"}],"mark":{"type":"text","font":"Liberation Sans","fontWeight":"bold","fontSize":19,"align":"right","color":"#2f5597"},"encoding":{"text":{"field":"t"}}}
]},
{"width":210,"height":207,
"encoding":{
"x":{"field":"x","type":"quantitative","scale":{"domain":[-2500,52500],"nice":false,"zero":false},"axis":{"values":[0,10000,20000,30000],"labelExpr":"format(datum.value,',')","tickSize":{"condition":{"test":"datum.value===20000","value":17},"value":3},"tickColor":{"condition":{"test":"datum.value===20000","value":"#000000"},"value":"#c8c8c8"},"tickWidth":{"condition":{"test":"datum.value===20000","value":1.5},"value":1},"labelPadding":{"condition":{"test":"datum.value===20000","value":3},"value":1},"title":"(C3)","titleX":-51,"titleY":-185}},
"y":{"field":"y","type":"quantitative","scale":{"domain":[-0.0219,0.0312],"nice":false,"zero":false},"axis":{"values":[-0.02,-0.01,0,0.01,0.02],"labelExpr":"datum.value===0?'0':replace(format(datum.value,''),'−','-')","title":null,"gridColor":{"condition":{"test":"datum.value===0","value":"#9a9a9a"},"value":"#f4f4f4"},"gridDash":{"condition":{"test":"datum.value===0","value":[2,2]},"value":[]},"gridWidth":{"condition":{"test":"datum.value===0","value":1},"value":0.8}}}},
"layer":[
{"data":{"name":"crv"},"transform":[{"filter":"datum.p==='C3'"}],"mark":{"type":"line","color":"#7f7f7f","strokeWidth":1}},
{"data":{"name":"arr"},"transform":[{"filter":"datum.p==='C3'"}],"mark":{"type":"rule","strokeWidth":2.2,"color":"#ff0000"},"encoding":{"x2":{"field":"hx"},"y2":{"field":"hy"}}},
{"data":{"name":"arr"},"transform":[{"filter":"datum.p==='C3'"}],"mark":{"type":"point","shape":"M0,0L-0.8,2.4L0.8,2.4Z","filled":true,"size":56,"opacity":1,"color":"#ff0000"},"encoding":{"x":{"field":"hx","type":"quantitative"},"y":{"field":"hy","type":"quantitative"},"angle":{"field":"a","type":"quantitative","scale":null}}},
{"data":{"name":"num"},"transform":[{"filter":"datum.p==='C3'"}],"mark":{"type":"text","font":"Lato","fontWeight":"bold","fontSize":19,"color":"#000000"},"encoding":{"text":{"field":"t"}}},
{"data":{"name":"axn"},"transform":[{"filter":"datum.p==='C3'"}],"mark":{"type":"text","font":"Liberation Sans","fontWeight":"bold","fontSize":19,"align":"right","color":"#2f5597"},"encoding":{"text":{"field":"t"}}}
]},
{"width":210,"height":199,
"encoding":{
"x":{"field":"x","type":"quantitative","scale":{"domain":[-2500,52500],"nice":false,"zero":false},"axis":{"values":[0,5000,10000,15000,20000,25000,30000,35000,40000,45000,50000],"labelExpr":"indexof([0,10000,20000,30000],datum.value)<0?'':format(datum.value,',')","tickSize":{"condition":{"test":"datum.value===20000","value":17},"value":4},"tickWidth":{"condition":{"test":"datum.value===20000","value":1.5},"value":1},"tickColor":{"condition":{"test":"datum.value%10000===0","value":"#333333"},"value":"transparent"},"labelPadding":{"condition":{"test":"datum.value===20000","value":3},"value":1},"gridColor":"#ffffff","gridWidth":{"condition":{"test":"datum.value%10000===0","value":1.3},"value":0.6},"title":"(C4)","titleX":-31,"titleY":-179}},
"y":{"field":"y","type":"quantitative","scale":{"domain":[-0.0448,0.081],"nice":false,"zero":false},"axis":{"values":[-0.0375,-0.025,-0.0125,0,0.0125,0.025,0.0375,0.05,0.0625,0.075],"labelExpr":"indexof([-0.025,0,0.025,0.05],datum.value)<0?'':datum.value===0?'0':replace(format(datum.value,''),'−','-')","title":null,"tickSize":4,"tickColor":{"condition":{"test":"indexof([-0.025,0,0.025,0.05,0.075],datum.value)>=0","value":"#333333"},"value":"transparent"},"gridColor":{"condition":{"test":"datum.value===0","value":"#000000"},"value":"#ffffff"},"gridDash":{"condition":{"test":"datum.value===0","value":[6,5]},"value":[]},"gridWidth":{"condition":{"test":"indexof([-0.025,0,0.025,0.05,0.075],datum.value)>=0","value":1.3},"value":0.6}}}},
"layer":[
{"data":{"name":"crv"},"transform":[{"filter":"datum.p==='C4'"}],"mark":{"type":"line","color":"#000000","strokeWidth":1.6}},
{"data":{"name":"arr"},"transform":[{"filter":"datum.p==='C4'"}],"mark":{"type":"rule","strokeWidth":2.2,"color":"#7030a0"},"encoding":{"x2":{"field":"hx"},"y2":{"field":"hy"}}},
{"data":{"name":"arr"},"transform":[{"filter":"datum.p==='C4'"}],"mark":{"type":"point","shape":"M0,0L-0.8,2.4L0.8,2.4Z","filled":true,"size":56,"opacity":1,"color":"#7030a0"},"encoding":{"x":{"field":"hx","type":"quantitative"},"y":{"field":"hy","type":"quantitative"},"angle":{"field":"a","type":"quantitative","scale":null}}},
{"data":{"name":"num"},"transform":[{"filter":"datum.p==='C4'"}],"mark":{"type":"text","font":"Lato","fontWeight":"bold","fontSize":19,"color":"#000000"},"encoding":{"text":{"field":"t"}}},
{"data":{"name":"axn"},"transform":[{"filter":"datum.p==='C4'"}],"mark":{"type":"text","font":"Liberation Sans","fontWeight":"bold","fontSize":19,"align":"right","color":"#a3199d"},"encoding":{"text":{"field":"t"}}}
]},
{"width":205,"height":188,
"encoding":{
"x":{"field":"x","type":"quantitative","scale":{"domain":[-2500,52500],"nice":false,"zero":false},"axis":{"values":[0,5000,10000,15000,20000,25000,30000,35000,40000,45000,50000],"labelExpr":"indexof([0,10000,20000,30000],datum.value)<0?'':format(datum.value,',')","tickSize":{"condition":{"test":"datum.value===20000","value":17},"value":4},"tickWidth":{"condition":{"test":"datum.value===20000","value":1.5},"value":1},"tickColor":{"condition":{"test":"datum.value%10000===0","value":"#333333"},"value":"transparent"},"labelPadding":{"condition":{"test":"datum.value===20000","value":3},"value":1},"gridColor":"#ffffff","gridWidth":{"condition":{"test":"datum.value%10000===0","value":1.3},"value":0.6},"title":"(C5)","titleX":-44,"titleY":-170}},
"y":{"field":"y","type":"quantitative","scale":{"domain":[-0.0448,0.081],"nice":false,"zero":false},"axis":{"values":[-0.0375,-0.025,-0.0125,0,0.0125,0.025,0.0375,0.05,0.0625,0.075],"labelExpr":"indexof([-0.025,0,0.025,0.05],datum.value)<0?'':datum.value===0?'0':replace(format(datum.value,''),'−','-')","title":null,"tickSize":4,"tickColor":{"condition":{"test":"indexof([-0.025,0,0.025,0.05,0.075],datum.value)>=0","value":"#333333"},"value":"transparent"},"gridColor":{"condition":{"test":"datum.value===0","value":"#000000"},"value":"#ffffff"},"gridDash":{"condition":{"test":"datum.value===0","value":[6,5]},"value":[]},"gridWidth":{"condition":{"test":"indexof([-0.025,0,0.025,0.05,0.075],datum.value)>=0","value":1.3},"value":0.6}}}},
"layer":[
{"data":{"name":"crv"},"transform":[{"filter":"datum.p==='C5'"}],"mark":{"type":"line","color":"#000000","strokeWidth":1.6}},
{"data":{"name":"arr"},"transform":[{"filter":"datum.p==='C5'"}],"mark":{"type":"rule","strokeWidth":2.2,"color":"#ff0000"},"encoding":{"x2":{"field":"hx"},"y2":{"field":"hy"}}},
{"data":{"name":"arr"},"transform":[{"filter":"datum.p==='C5'"}],"mark":{"type":"point","shape":"M0,0L-0.8,2.4L0.8,2.4Z","filled":true,"size":56,"opacity":1,"color":"#ff0000"},"encoding":{"x":{"field":"hx","type":"quantitative"},"y":{"field":"hy","type":"quantitative"},"angle":{"field":"a","type":"quantitative","scale":null}}},
{"data":{"name":"num"},"transform":[{"filter":"datum.p==='C5'"}],"mark":{"type":"text","font":"Lato","fontWeight":"bold","fontSize":19,"color":"#000000"},"encoding":{"text":{"field":"t"}}},
{"data":{"name":"axn"},"transform":[{"filter":"datum.p==='C5'"}],"mark":{"type":"text","font":"Liberation Sans","fontWeight":"bold","fontSize":19,"align":"right","color":"#2f5597"},"encoding":{"text":{"field":"t"}}}
]}
],
"config":{
"view":{"fill":"#ebebeb","stroke":null},
"font":"Liberation Sans",
"axis":{"labelFont":"Liberation Sans","labelFontSize":14,"labelFontWeight":"bold","labelColor":"#000000","domain":false,"labelOverlap":false,"labelFlush":false,"gridColor":"#f4f4f4","gridWidth":0.8,"tickSize":3,"tickColor":"#c8c8c8","labelPadding":2,"titleFont":"Liberation Sans","titleFontWeight":"bold","titleColor":"#000000"},
"axisX":{"titleAlign":"left","titleBaseline":"alphabetic","titleAngle":0,"titleFontSize":20,"labelAngle":0},
"axisY":{"titleFontSize":16,"titlePadding":10},
"title":{"font":"Liberation Sans","fontSize":20,"fontWeight":"bold"}
}
}
